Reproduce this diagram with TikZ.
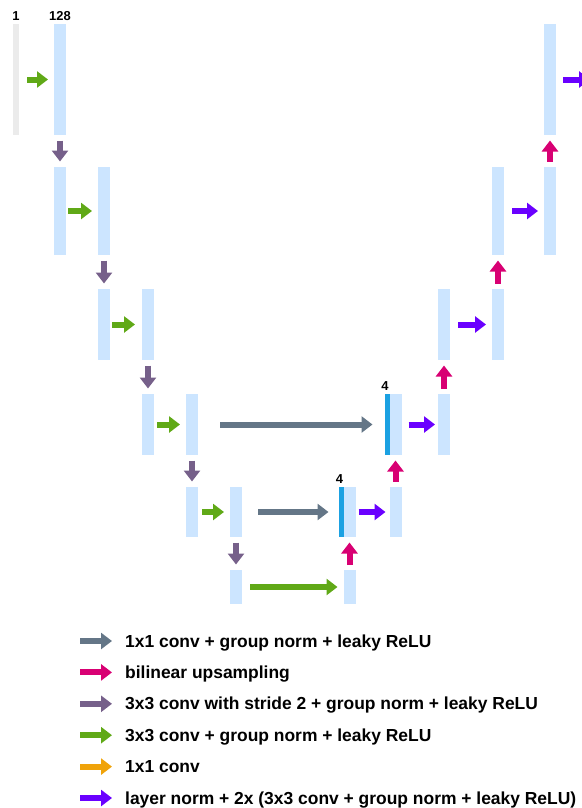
\documentclass[tikz,border=0pt]{standalone}
\usepackage{fontspec}
\setmainfont{Liberation Sans}
\usetikzlibrary{arrows.meta,positioning}
\definecolor{barblue}{HTML}{CCE5FF}
\definecolor{ingray}{HTML}{EBEBEB}
\definecolor{catblue}{HTML}{1BA1E2}
\definecolor{convgreen}{HTML}{60A917}
\definecolor{downpurple}{HTML}{76608A}
\definecolor{skipslate}{HTML}{647687}
\definecolor{uppink}{HTML}{D80073}
\definecolor{outorange}{HTML}{F0A30A}
\definecolor{lnviolet}{HTML}{6A00FF}
\tikzset{fmap/.style={fill=barblue,minimum width=12bp,inner sep=0pt,outer sep=0pt},inmap/.style={fmap,fill=ingray,minimum width=6bp},catmap/.style={fmap,fill=catblue,minimum width=5bp},chlabel/.style={font=\fontsize{13}{13}\selectfont\bfseries,inner sep=0pt},op/.style={line width=6bp,-{Triangle[length=11bp,width=16bp]}},legtext/.style={font=\fontsize{17.5}{20}\selectfont\bfseries,inner sep=0pt,anchor=base west}}

\begin{document}
\begin{tikzpicture}[x=1bp,y=-1bp]
\useasboundingbox (0,0) rectangle (582,808);
\clip (0,0) rectangle (582,808);
% encoder
\node[inmap,minimum height=111bp] (in) at (16,79.5) {};
\node[fmap,minimum height=111bp] (e0) at (60,79.5) {};
\node[fmap,minimum height=88bp] (e1a) at (60,211) {};
\node[fmap,minimum height=88bp] (e1b) at (104,211) {};
\node[fmap,minimum height=71bp] (e2a) at (104,324.5) {};
\node[fmap,minimum height=71bp] (e2b) at (148,324.5) {};
\node[fmap,minimum height=61bp] (e3a) at (148,424.5) {};
\node[fmap,minimum height=61bp] (e3b) at (192,424.5) {};
\node[fmap,minimum height=50bp] (e4a) at (192,512) {};
\node[fmap,minimum height=50bp] (e4b) at (236,512) {};
\node[fmap,minimum height=34bp] (e5a) at (236,587) {};
\node[fmap,minimum height=34bp] (e5b) at (349.5,587) {};
% decoder
\node[fmap,minimum height=50bp] (u4) at (349.5,512) {};
\node[catmap,minimum height=50bp,left=0pt of u4] (k4) {};
\node[fmap,minimum height=50bp] (d4) at (395.5,512) {};
\node[fmap,minimum height=61bp] (u3) at (395.5,424.5) {};
\node[catmap,minimum height=61bp,left=0pt of u3] (k3) {};
\node[fmap,minimum height=61bp] (d3) at (444,424.5) {};
\node[fmap,minimum height=71bp] (d2a) at (444,324.5) {};
\node[fmap,minimum height=71bp] (d2b) at (498,324.5) {};
\node[fmap,minimum height=88bp] (d1a) at (498,211) {};
\node[fmap,minimum height=88bp] (d1b) at (550,211) {};
\node[fmap,minimum height=111bp] (d0) at (550,79.5) {};
\coordinate (out) at (590,79.5);
% channel counts
\node[chlabel,above=3bp of in] (cin) {1};
\node[chlabel,above=3bp of e0] (c0) {128};
\node[chlabel,above=3bp of k4,xshift=-1.5bp] (c4) {4};
\node[chlabel,above=3bp of k3,xshift=-2bp] (c3) {4};
% 3x3 conv
\draw[op,convgreen,shorten <=8bp,shorten >=6bp] (in) -- (e0);
\draw[op,convgreen,shorten <=2bp,shorten >=6bp] (e1a) -- (e1b);
\draw[op,convgreen,shorten <=2bp,shorten >=7bp] (e2a) -- (e2b);
\draw[op,convgreen,shorten <=3bp,shorten >=6bp] (e3a) -- (e3b);
\draw[op,convgreen,shorten <=4bp,shorten >=6bp] (e4a) -- (e4b);
\draw[op,convgreen,shorten <=8bp,shorten >=6bp] (e5a) -- (e5b);
% stride 2 down, upsampling up
\foreach \a/\b in {e0/e1a,e1b/e2a,e2b/e3a,e3b/e4a,e4b/e5a}
\draw[op,downpurple,shorten <=5.5bp,shorten >=5.5bp] (\a) -- (\b);
\foreach \a/\b in {e5b/u4,d4/u3,d3/d2a,d2b/d1a,d1b/d0}
\draw[op,uppink,shorten <=5.5bp,shorten >=5.5bp] (\a) -- (\b);
% skips
\draw[op,skipslate,shorten <=22bp,shorten >=12bp] (e3b) -- (k3);
\draw[op,skipslate,shorten <=16bp,shorten >=10bp] (e4b) -- (k4);
% layer norm blocks
\draw[op,lnviolet,shorten <=3bp,shorten >=4bp] (u4) -- (d4);
\draw[op,lnviolet,shorten <=7bp,shorten >=3bp] (u3) -- (d3);
\draw[op,lnviolet,shorten <=8bp,shorten >=6bp] (d2a) -- (d2b);
\draw[op,lnviolet,shorten <=8bp,shorten >=6bp] (d1a) -- (d1b);
\draw[op,lnviolet,shorten <=7bp] (d0) -- (out);
% legend
\foreach \c/\t [count=\i from 0] in {skipslate/1x1 conv + group norm + leaky ReLU,uppink/bilinear upsampling,downpurple/3x3 conv with stride 2 + group norm + leaky ReLU,convgreen/3x3 conv + group norm + leaky ReLU,outorange/1x1 conv,lnviolet/layer norm + 2x (3x3 conv + group norm + leaky ReLU)}{
\node[legtext] (leg\i) at (125,{647+31.4*\i}) {\t};
\draw[op,\c] ([shift={(-45bp,6bp)}]leg\i.base west) -- ([shift={(-13bp,6bp)}]leg\i.base west);}
\end{tikzpicture}
\end{document}
